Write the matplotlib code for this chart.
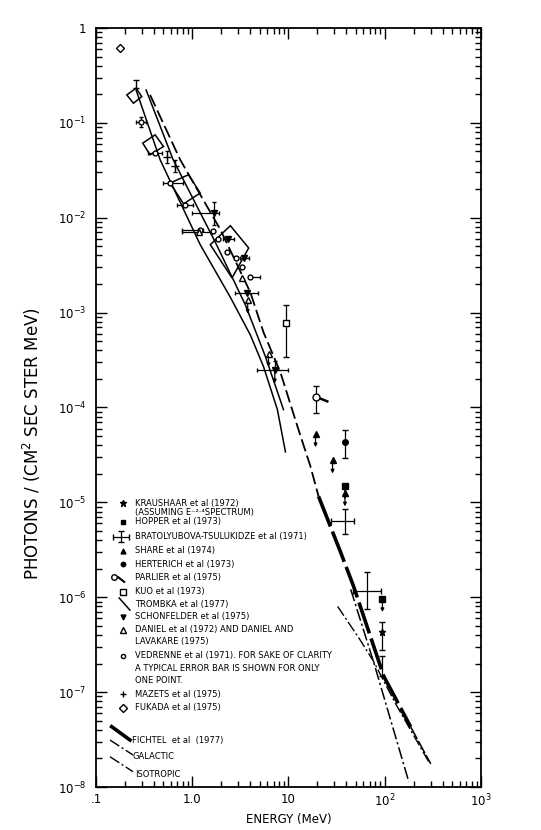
import matplotlib
matplotlib.use('Agg')
import matplotlib.pyplot as plt
from matplotlib.patches import Polygon
from matplotlib.ticker import FixedLocator, FixedFormatter, LogLocator, NullFormatter

# ---------------- data ----------------
# curves (energy MeV, flux)
trombka_lo_E = [0.261, 0.464, 1.21, 2.49, 4.02, 5.5, 7.67, 9.3]
trombka_lo_F = [0.222, 0.0408, 0.0052, 0.00145, 5.8e-4, 2.7e-4, 9.5e-5, 3.4e-5]
trombka_hi_E = [0.332, 0.634, 1.74, 3.56, 5.76, 8.87]
trombka_hi_F = [0.222, 0.0408, 0.0055, 0.00121, 3.44e-4, 9.5e-5]
upper_dash_E = [0.365, 0.75, 1.96, 4.02, 5.5, 8.26, 12.4, 16.9, 20.5]
upper_dash_F = [0.197, 0.0408, 0.0075, 0.00163, 6.2e-4, 2.33e-4, 6.3e-5, 2.4e-5, 1.16e-5]
fichtel_E = [20.5, 34.8, 47.5, 97.7, 186]
fichtel_F = [1.16e-5, 2.98e-6, 1.3e-6, 1.47e-7, 4.3e-8]
fichtel_ext_E = [186, 301]
fichtel_ext_F = [4.3e-8, 1.75e-8]
galactic_E = [32.4, 55, 76.7, 130, 290]
galactic_F = [8.0e-7, 3.6e-7, 2.1e-7, 7.5e-8, 1.8e-8]
isotropic_E = [44.3, 76.7, 178]
isotropic_F = [1.21e-6, 2.07e-7, 1.13e-8]

# Fukada error boxes: corners (left, top, right, bottom)
box_E = [[0.209, 0.261, 0.299, 0.245],
         [0.306, 0.412, 0.503, 0.365],
         [0.590, 0.915, 1.21, 0.812],
         [1.54, 2.49, 3.86, 2.59]]
box_F = [[0.197, 0.232, 0.189, 0.161],
         [0.0611, 0.0748, 0.0563, 0.046],
         [0.0232, 0.0284, 0.0182, 0.0140],
         [0.0052, 0.00824, 0.0048, 0.00232]]

# point data
vedrenne_E = [0.292, 0.41, 0.59, 0.845, 1.21, 1.66, 1.87, 2.3, 2.87, 3.3, 4.0]
vedrenne_F = [0.103, 0.048, 0.0235, 0.0137, 0.0075, 0.0073, 0.0059, 0.0044, 0.0038, 0.0030, 0.0024]
vedrenne_Elo = [0.26, 0.35, 0.50, 0.70, 0.79, 1.66, 1.87, 2.3, 2.87, 3.3, 4.0]
vedrenne_Ehi = [0.33, 0.49, 0.81, 1.02, 1.30, 1.66, 1.87, 2.3, 2.87, 3.3, 5.0]
vedrenne_Flo = [0.0913, 0.048, 0.0235, 0.0137, 0.0075, 0.0073, 0.0059, 0.0044, 0.0038, 0.0030, 0.0024]
vedrenne_Fhi = [0.116, 0.048, 0.0235, 0.0137, 0.0075, 0.0073, 0.0059, 0.0044, 0.0038, 0.0030, 0.0024]

mazets_E = [0.545, 0.655]
mazets_F = [0.044, 0.035]
mazets_Flo = [0.038, 0.030]
mazets_Fhi = [0.051, 0.041]

schon_E = [1.67, 2.37, 3.48, 3.71, 7.2]
schon_F = [0.0112, 0.0059, 0.0038, 0.0016, 2.5e-4]
schon_Elo = [1.0, 2.1, 3.1, 2.8, 4.7]
schon_Ehi = [1.9, 2.7, 3.9, 4.87, 9.8]
schon_Flo = [0.0084, 0.0059, 0.0038, 0.0016, 2.5e-4]
schon_Fhi = [0.0147, 0.0059, 0.0038, 0.0016, 3.07e-4]

daniel_E = [1.17, 3.3, 3.77, 6.2]
daniel_F = [0.0070, 0.0023, 0.00135, 3.7e-4]
daniel_Elo = [0.78, 3.3, 3.77, 6.2]
daniel_Ehi = [1.6, 3.3, 3.77, 6.2]

fukada_E = [0.178]
fukada_F = [0.62]

kuo_E = [9.5]
kuo_F = [7.7e-4]
kuo_Flo = [3.4e-4]
kuo_Fhi = [1.2e-3]

parlier_E = [19.1]
parlier_F = [1.3e-4]
parlier_Flo = [8.7e-5]
parlier_Fhi = [1.7e-4]
parlier_tail_E = [25.3]
parlier_tail_F = [1.16e-4]

share_E = [19.1, 28.7, 38.6]
share_F = [5.3e-5, 2.8e-5, 1.26e-5]

herterich_E = [38.6]
herterich_F = [4.35e-5]
herterich_Flo = [2.9e-5]
herterich_Fhi = [5.8e-5]

hopper_E = [38.6, 94.6]
hopper_F = [1.49e-5, 9.7e-7]

bratol_E = [38.6, 66.0]
bratol_F = [6.35e-6, 1.16e-6]
bratol_Elo = [27.5, 46.6]
bratol_Ehi = [47.5, 91.0]
bratol_Flo = [4.6e-6, 7.5e-7]
bratol_Fhi = [8.6e-6, 1.83e-6]

kraus_E = [94.6]
kraus_F = [4.26e-7]
kraus_Flo = [2.8e-7]
kraus_Fhi = [5.5e-7]
kraus2_E = [94.6]
kraus2_Flo = [1.47e-7]
kraus2_Fhi = [2.4e-7]

x_ticks = [0.1, 1, 10, 100, 1000]
x_labels = ['.1', '1.0', '10', r'$10^2$', r'$10^3$']
y_ticks = [1, 1e-1, 1e-2, 1e-3, 1e-4, 1e-5, 1e-6, 1e-7, 1e-8]
y_labels = ['1', r'$10^{-1}$', r'$10^{-2}$', r'$10^{-3}$', r'$10^{-4}$',
            r'$10^{-5}$', r'$10^{-6}$', r'$10^{-7}$', r'$10^{-8}$']

legend_entries = [
    'KRAUSHAAR et al (1972)', '(ASSUMING E\u207b\u00b2\u00b7\u2074SPECTRUM)', 'HOPPER et al (1973)',
    'BRATOLYUBOVA-TSULUKIDZE et al (1971)', 'SHARE et al (1974)', 'HERTERICH et al (1973)',
    'PARLIER et al (1975)', 'KUO et al (1973)', 'TROMBKA et al (1977)',
    'SCHONFELDER et al (1975)', 'DANIEL et al (1972) AND DANIEL AND', 'LAVAKARE (1975)',
    'VEDRENNE et al (1971). FOR SAKE OF CLARITY', 'A TYPICAL ERROR BAR IS SHOWN FOR ONLY',
    'ONE POINT.', 'MAZETS et al (1975)', 'FUKADA et al (1975)']
line_legend = ['FICHTEL  et al  (1977)', 'GALACTIC', 'ISOTROPIC']

# ---------------- figure ----------------
plt.rcParams['font.family'] = ['DejaVu Sans']
fig = plt.figure(figsize=(5.41, 8.30), dpi=100)
ax = fig.add_axes([0.1774, 0.0518, 0.7117, 0.9145])
ax.set_xscale('log')
ax.set_yscale('log')
ax.set_xlim(0.1, 1000)
ax.set_ylim(1e-8, 1)

k = 'black'
# curves
ax.plot(trombka_lo_E, trombka_lo_F, color=k, lw=1.1)
ax.plot(trombka_hi_E, trombka_hi_F, color=k, lw=1.1)
ax.plot(upper_dash_E, upper_dash_F, color=k, lw=1.3, ls=(0, (7, 2.5)))
ax.plot(fichtel_E, fichtel_F, color=k, lw=2.6, ls=(0, (9, 1.5)))
ax.plot(fichtel_ext_E, fichtel_ext_F, color=k, lw=1.1, ls=(0, (9, 1.5)))
ax.plot(galactic_E, galactic_F, color=k, lw=1.0, ls=(0, (8, 2, 1.5, 2)))
ax.plot(isotropic_E, isotropic_F, color=k, lw=1.1, ls=(0, (8, 2, 1.5, 2)))

# boxes
for bE, bF in zip(box_E, box_F):
    ax.add_patch(Polygon(list(zip(bE, bF)), closed=True, fill=False, ec=k, lw=1.1))
ax.errorbar([box_E[0][1]], [box_F[0][1]],
            yerr=[[0], [0.284 - box_F[0][1]]], fmt='none', ecolor=k, elinewidth=1, capsize=2)

def xe(v, lo, hi):
    return [[a - b for a, b in zip(v, lo)], [b - a for a, b in zip(v, hi)]]

ms = 4
ax.errorbar(vedrenne_E, vedrenne_F, xerr=xe(vedrenne_E, vedrenne_Elo, vedrenne_Ehi),
            yerr=xe(vedrenne_F, vedrenne_Flo, vedrenne_Fhi),
            fmt='o', mfc='white', mec=k, ms=3.5, ecolor=k, elinewidth=0.9, capsize=1.5)
ax.errorbar(mazets_E, mazets_F, yerr=xe(mazets_F, mazets_Flo, mazets_Fhi),
            fmt='+', color=k, ms=6, elinewidth=0.9, capsize=1.5)
ax.errorbar(schon_E, schon_F, xerr=xe(schon_E, schon_Elo, schon_Ehi),
            yerr=xe(schon_F, schon_Flo, schon_Fhi),
            fmt='v', color=k, ms=ms, elinewidth=0.9, capsize=1.5)
ax.errorbar(daniel_E, daniel_F, xerr=xe(daniel_E, daniel_Elo, daniel_Ehi),
            fmt='^', mfc='white', mec=k, ms=ms, ecolor=k, elinewidth=0.9, capsize=1.5)
ax.plot(fukada_E, fukada_F, 'D', mfc='white', mec=k, ms=4)
ax.errorbar(kuo_E, kuo_F, yerr=xe(kuo_F, kuo_Flo, kuo_Fhi),
            fmt='s', mfc='white', mec=k, ms=5, ecolor=k, elinewidth=0.9, capsize=2)
ax.errorbar(parlier_E, parlier_F, yerr=xe(parlier_F, parlier_Flo, parlier_Fhi),
            fmt='o', mfc='white', mec=k, ms=5, ecolor=k, elinewidth=0.9, capsize=2)
ax.plot([parlier_E[0], parlier_tail_E[0]], [parlier_F[0], parlier_tail_F[0]], color=k, lw=1.8)
ax.plot(share_E, share_F, '^', color=k, ms=ms)
ax.errorbar(herterich_E, herterich_F, yerr=xe(herterich_F, herterich_Flo, herterich_Fhi),
            fmt='o', color=k, ms=ms, elinewidth=0.9, capsize=2)
ax.plot(hopper_E, hopper_F, 's', color=k, ms=ms)
ax.errorbar(bratol_E, bratol_F, xerr=xe(bratol_E, bratol_Elo, bratol_Ehi),
            yerr=xe(bratol_F, bratol_Flo, bratol_Fhi),
            fmt='none', ecolor=k, elinewidth=0.9, capsize=2)
ax.errorbar(kraus_E, kraus_F, yerr=xe(kraus_F, kraus_Flo, kraus_Fhi),
            fmt='*', color=k, ms=5, elinewidth=0.9, capsize=2)
ax.errorbar(kraus2_E, [kraus2_Fhi[0]], yerr=[[kraus2_Fhi[0] - kraus2_Flo[0]], [0]],
            fmt='none', ecolor=k, elinewidth=0.9, capsize=2)

# downward arrows (upper limits)
arrow_pts = list(zip(share_E, share_F)) + list(zip(hopper_E, hopper_F)) + \
    [(daniel_E[2], daniel_F[2]), (daniel_E[3], daniel_F[3]), (schon_E[4], schon_F[4])]
for e, f in arrow_pts:
    ax.annotate('', xy=(e, f * 0.72), xytext=(e, f),
                arrowprops=dict(arrowstyle='-|>', color=k, lw=0.9, mutation_scale=5,
                                shrinkA=2, shrinkB=0))

# axes styling
for s in ax.spines.values():
    s.set_linewidth(1.3)
ax.xaxis.set_major_locator(FixedLocator(x_ticks))
ax.xaxis.set_major_formatter(FixedFormatter(x_labels))
ax.yaxis.set_major_locator(FixedLocator(y_ticks))
ax.yaxis.set_major_formatter(FixedFormatter(y_labels))
ax.xaxis.set_minor_locator(LogLocator(base=10, subs=range(2, 10), numticks=20))
ax.yaxis.set_minor_locator(LogLocator(base=10, subs=range(2, 10), numticks=20))
ax.xaxis.set_minor_formatter(NullFormatter())
ax.yaxis.set_minor_formatter(NullFormatter())
ax.tick_params(which='both', direction='in', top=True, right=True, width=1.0, labelsize=8.5)
ax.tick_params(which='major', length=8)
ax.tick_params(which='minor', length=4.5)
ax.tick_params(axis='x', pad=4)
ax.tick_params(axis='y', pad=7)

ax.set_xlabel('ENERGY (MeV)', fontsize=8.5, labelpad=3)
ax.set_ylabel('PHOTONS / (CM$^2$ SEC STER MeV)', fontsize=12)
ax.yaxis.set_label_coords(-0.138, 0.452)

# legend (manual)
leg_y = [0.3738, 0.3619, 0.3495, 0.3298, 0.3113, 0.2938, 0.2763, 0.2573, 0.2411,
         0.2244, 0.2069, 0.1914, 0.1726, 0.1559, 0.1400, 0.1225, 0.1045]
tx = 0.1013
for t, y in zip(legend_entries, leg_y):
    ax.text(tx, y, t, transform=ax.transAxes, fontsize=6.0, va='center', ha='left')
sx = 0.0701
tr = ax.transAxes
ax.plot([sx], [leg_y[0]], '*', color=k, ms=5, transform=tr)
ax.plot([sx], [leg_y[2]], 's', color=k, ms=3.5, transform=tr)
ax.errorbar([sx - 0.005], [leg_y[3]], xerr=[0.02], yerr=[0.007], fmt='none', ecolor=k,
            elinewidth=0.9, capsize=2, transform=tr)
ax.plot([sx], [leg_y[4]], '^', color=k, ms=3.5, transform=tr)
ax.plot([sx], [leg_y[5]], 'o', color=k, ms=3.2, transform=tr)
ax.plot([sx - 0.022], [leg_y[6]], 'o', mfc='white', mec=k, ms=4, transform=tr)
ax.plot([sx - 0.012, sx + 0.003], [leg_y[6], leg_y[6] - 0.006], color=k, lw=1.5, transform=tr)
ax.plot([sx], [leg_y[7]], 's', mfc='white', mec=k, ms=4, transform=tr)
ax.plot([sx - 0.010, sx + 0.018], [leg_y[8] + 0.008, leg_y[8] - 0.008], color=k, lw=1.1, transform=tr)
ax.plot([sx], [leg_y[9]], 'v', color=k, ms=3.5, transform=tr)
ax.plot([sx], [leg_y[10]], '^', mfc='white', mec=k, ms=4, transform=tr)
ax.plot([sx], [leg_y[12]], 'o', mfc='white', mec=k, ms=3, transform=tr)
ax.plot([sx], [leg_y[15]], '+', color=k, ms=5, transform=tr)
ax.plot([sx], [leg_y[16]], 'D', mfc='white', mec=k, ms=4, transform=tr)

# line legend
ax.plot([0.0408, 0.0883], [0.0795, 0.0619], color=k, lw=2.6, transform=tr)
ax.plot([0.0364, 0.0961], [0.0619, 0.0422], color=k, lw=1.0, ls=(0, (8, 2, 1.5, 2)), transform=tr)
ax.plot([0.0364, 0.0961], [0.0399, 0.0202], color=k, lw=1.0, ls=(0, (8, 2, 1.5, 2)), transform=tr)
ax.text(0.0927, 0.0619, line_legend[0], transform=tr, fontsize=6.0, va='center')
ax.text(0.0961, 0.0399, line_legend[1], transform=tr, fontsize=6.0, va='center')
ax.text(0.1013, 0.0171, line_legend[2], transform=tr, fontsize=6.0, va='center')

fig.savefig('out.png', dpi=100)
